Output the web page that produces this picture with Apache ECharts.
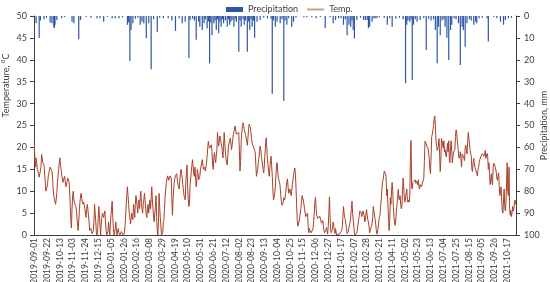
<!DOCTYPE html>
<html>
<head>
<meta charset="utf-8">
<script src="https://cdn.jsdelivr.net/npm/echarts@6/dist/echarts.min.js"></script>
<style>
  html, body { margin: 0; padding: 0; background: #fff; }
  #chart { width: 550px; height: 282px; }
</style>
</head>
<body>
<div id="chart"></div>
<script>
// daily air temperature, °C, one array per month
const tSep19 = [21.5,17,15.5,17.6,16.5,15,14.5,14,13.2,12.8,13.5,15.5,18.4,17.5,16.5,16.3,16,14,12,10,9.6,11,12,13.5,14.2,15,15.5,15.7,15.5,14.5];
const tOct19 = [13,10.5,9,8.2,7.8,7,8.2,9.5,12,13.5,15,16.5,17.6,16,15,13.8,13,12,12.6,13,13.4,12,11,11.6,12.3,13,12.6,12.2,10,7,3.5];
const tNov19 = [1.6,6,9,10,8,7.6,7,6.5,6,4,2.5,1,3,5.5,7.5,9,9.5,8.3,7.5,7,7.5,6.8,6,5,4,6,7,6,4.5,3];
const tDec19 = [1,1.2,1.5,0.8,0.3,0,1,3,7,5,3,0.5,0,1,4,6.5,4.5,2,0,2.5,4,5,4.6,4,5,5.5,3,1,0,0.3,0.8];
const tJan20 = [3,1,0,2.5,4.5,6.5,7.7,4,1.5,0,0.5,1.5,3,1,0,1,1.5,0.5,0.2,0,0.3,0.8,1,0.4,0,0,0.5,2,4,7,9];
const tFeb20 = [11,9,7,5,4,2.5,3.5,5,4,3.5,7,5.5,4,7,9,8,6.5,5,7.5,8,6,8.5,10,7.5,6,5,7,8,9.5];
const tMar20 = [8,6,4.5,4,6.5,7,5,6.5,8,6,8.5,11,8,6,4,3,5,6.5,9,4,1,0,3,9.5,6.5,4,2,0,0,0.5,3];
const tApr20 = [3.5,6,9,10.5,12,12.8,13.5,13,12.5,13,13.5,13.2,13,8,4.5,8,10.5,12,13,13.5,13.8,14,12.5,11.5,11,10.5,12.5,14,15,14];
const tMay20 = [13,11.5,10.4,9,8.5,8,12,14.5,16,11,8,6.5,7.5,11.5,13,14.5,16,17.2,15.5,14,13.4,15.5,13,11,12.5,15,14,12.6,13,13.4,15];
const tJun20 = [15.7,16.5,17.2,16,15,14.8,15.5,14.6,15.5,16.5,18,20,21.4,20.5,19.8,19.5,20,20.6,19,16,15,17.5,18.8,17.5,16.5,16.1,19.5,23.4,21.5,20.3];
const tJul20 = [21.5,22.6,22,21,20.3,19,17.6,20.5,23.4,21,18.8,17.5,16.5,16,18,20.3,21,21.5,22.1,21,19.5,20.5,21.8,22.9,23.5,24.2,24.9,24,23,22.6,23];
const tAug20 = [23.2,23.4,19,14.6,17,21.4,23.5,25,25.6,25,24.1,23.5,23,22.6,21.5,20.5,22,24,25.3,25,24.5,24.1,22,21,20.5,20.3,19.8,19.3,18.8,16,13.4];
const tSep20 = [13.4,15,16.5,17.5,19,20.3,19.5,18,17.2,16,15,14.2,16,18.5,20.5,22.2,20,17.5,16,14.5,13.4,15,17,18,16,13.4,10.5,8,8.5,9.5];
const tOct20 = [11,13.5,16,16.5,14.5,13,12.7,12,11,9,7.5,6.8,7,7.5,8.5,8,8.5,9.5,11,12.2,12.8,11,9.5,10,10.5,9.8,9,10,11.5,12.5,13.8];
const tNov20 = [14.5,15.3,14,11,7,3.5,2,2.2,3,4,5,6,7.5,9,9.2,8,7,6,5,4.2,3.8,4.2,5,2,0.5,1.5,1,1,0.5,0.2];
const tDec20 = [0.5,1.5,3,5,7.5,8.6,6,4.5,4.2,3.8,3.5,4,4.3,4,3.2,2.7,3,3.3,2,1,0.5,0.2,1,1.7,1,0.2,2,5,8.7,4,1];
const tJan21 = [0.5,0.2,1.5,3,2,1,0.3,1.5,0.5,0,0,0.2,0,0,0.3,0,0.5,1,1.7,4,6.5,5,4,3.5,2.5,1.5,0.3,0.2,0.8,1.7,2.5];
const tFeb21 = [3,4.5,6,7.7,5,3.5,2,0.5,0,0.2,0.3,0.5,1.5,2.5,3.5,4.5,5.5,5.8,5,4.2,4.8,5.5,5.8,4.5,3,3.5,4.8,5.8];
const tMar21 = [4.5,3.5,3,2,0.5,0.8,1.5,2,2.5,4,6.5,6.3,4.5,3.5,2.5,1,0.2,0.3,1.5,3,4,4.5,6.5,8,10,12,12.5,13.5,14.6,14.5,14];
const tApr21 = [13.4,9,10.5,7,4,1,3,8.5,7,10,12,10,6.5,4,3,2.2,3.5,5.5,7,8.5,10.4,8.5,8,9,7,6,6.6,10,13,11];
const tMay21 = [8.5,7.5,7.2,9.5,10.5,8,7.5,8,7.5,9,17,21.6,11,10.5,12,12.4,11.8,12.4,12.6,11.8,12.3,12,11.5,12.6,11,10.5,11.5,11.8,11,11.1,10.8];
const tJun21 = [10.8,13,17,21.4,21.2,20.8,20.3,20,19.8,19.5,17.5,15,14,18,22.5,23,24,25,26.5,27.2,25,21.5,20.5,19.3,19,20.3,22,18.5,14.5,17];
const tJul21 = [22,21.5,20.5,19.8,21.5,19,19.5,18.5,17.8,19.5,21,19,21.5,17,16.5,20,21.5,19,16.5,18,19,18.8,19.5,22.5,24,23.5,21.5,20.5,18.5,17.5,18];
const tAug21 = [19,17.5,15.5,18.5,18.6,18,17.5,17,20,20.5,19.5,18.5,21,23.4,23.5,21,19.5,18.6,18,15,14.5,16.5,17.5,16.5,15.5,15,14.5,14,13.5,14.8,15.4];
const tSep21 = [16.5,17.2,17.5,18,18.2,18.6,18.8,18.4,18,18.5,19.3,17.5,17.8,18.6,18,15,16.5,14,11.5,12.5,14,12,11.5,15.5,16.4,16,15.7,15.4,14.5,13];
const tOct21 = [12.5,13.5,14.2,11,9,10,11,8,5.5,5,8,10.5,6.5,5.5,7.5,12,16.5,10,9,15.5,6,4.5,5.6,4.2,5,6.5,5.5,6,7.5,8,7];

// rainy days: day number counted from 2019-09-01, and the amount in mm
const rainDay = [3,8,10,16,20,26,29,32,33,34,37,45,50,62,65,73,76,85,93,103,108,114,120,128,133,139,145,
  153,155,157,159,162,166,170,174,177,180,184,188,192,196,202,206,212,220,226,232,238,243,248,254,256,260,263,
  266,270,272,276,279,281,284,286,288,290,292,295,297,299,301,303,305,307,309,311,314,317,319,321,323,325,328,
  330,332,336,338,340,343,345,347,350,352,354,356,358,360,362,366,371,377,383,389,391,393,396,399,404,407,410,
  412,415,418,423,426,430,443,448,456,463,470,478,486,491,495,500,504,508,511,514,517,520,522,524,526,530,536,
  541,544,547,549,551,555,558,560,563,567,575,580,584,588,594,600,606,610,612,614,617,619,621,623,626,629,634,
  640,644,648,652,656,659,662,664,667,670,673,675,678,681,684,686,690,693,697,700,703,705,708,711,715,718,722,
  725,727,731,736,744,746,755,760,766,771,774,779,784];
const rainMm = [3.3,10,2,1.5,0.8,3,3.3,4.9,5.6,4,1.8,1,0.5,2.6,3.3,10.6,1.8,0.5,0.8,1,1,2.6,0.5,1,1,1,0.6,
  4,3,20.5,6.4,3.3,1.2,0.8,4,2.6,3.3,10.2,3.3,24.3,1.5,7.3,0.8,1,1,2,6.8,1,3.3,2.6,19.3,1.8,1.2,2,
  10.9,2.6,4.9,6.4,3.3,1.5,5.6,2.5,21.6,3,8.8,3.3,2,6.4,1.5,7.9,2.5,4.9,1.5,3.3,2,4.9,1.5,4,2.5,1.8,4.9,
  1.5,2.6,16.3,2,4.9,1.5,4,2,16.3,2.5,6.4,1.5,4.9,2,9.9,2.6,1.8,0.8,1,1.2,35.5,2,4.9,2.6,3.3,1.5,38.8,
  2,4,1,4.9,2.6,0.8,0.6,0.6,0.6,1,0.5,5.5,0.6,3.3,1.8,1,1,4,1.5,8.8,4,4.9,2,6.4,10.3,1.8,0.8,
  1.8,1.8,1.8,5.5,4.9,2.6,1,1,1,0.6,0.8,4,1,4.9,1.2,0.8,1.5,30.7,4,2,2.6,1.5,29.2,4,1.5,2.6,1.8,
  1,15.5,1.2,2,1.5,6.4,21.6,4.9,8.8,2,1.5,4.9,9.9,20.1,6.4,4,1,1.5,3.3,22.4,4.9,6.4,14,3.3,1.5,2,4,
  2.6,3.3,1,0.8,1,11.7,0.5,1,2.6,4,1.8,1,0.8];

const temps = [].concat(tSep19, tOct19, tNov19, tDec19, tJan20, tFeb20, tMar20, tApr20, tMay20, tJun20,
  tJul20, tAug20, tSep20, tOct20, tNov20, tDec20, tJan21, tFeb21, tMar21, tApr21, tMay21, tJun21,
  tJul21, tAug21, tSep21, tOct21);

const start = Date.UTC(2019, 8, 1);
const dates = temps.map((_, i) => new Date(start + i * 86400000).toISOString().slice(0, 10));
const rain = dates.map(() => null);
rainDay.forEach((d, i) => { rain[d] = rainMm[i]; });

const axisColor = '#404040';
const chart = echarts.init(document.getElementById('chart'));
chart.setOption({
  animation: false,
  textStyle: { fontFamily: 'Lato' },
  legend: {
    top: 0,
    left: 221,
    itemWidth: 17,
    itemHeight: 5,
    itemGap: 8,
    textStyle: { fontSize: 9, color: axisColor },
    data: [
      { name: 'Precipitation', icon: 'rect' },
      {
        name: 'Temp.',
        itemStyle: { color: 'rgba(0,0,0,0)', borderWidth: 0 },
        lineStyle: { color: '#c4a77d', width: 2 }
      }
    ]
  },
  grid: { left: 34, right: 34, top: 16, bottom: 47, outerBoundsMode: 'none' },
  xAxis: {
    type: 'category',
    data: dates,
    axisLine: { lineStyle: { color: axisColor } },
    axisTick: { interval: 6, length: 3, lineStyle: { color: axisColor } },
    axisLabel: { interval: 20, rotate: 90, fontSize: 8.5, color: axisColor, margin: 3 }
  },
  yAxis: [
    {
      type: 'value',
      min: 0, max: 50, interval: 5,
      name: 'Temperature, °C',
      nameLocation: 'middle',
      nameRotate: 90,
      nameGap: 23,
      nameMoveOverlap: false,
      nameTextStyle: { fontSize: 9, color: axisColor, padding: [0, 0, 0, 80] },
      axisLine: { show: true, lineStyle: { color: axisColor } },
      axisTick: { show: true, length: 4, lineStyle: { color: axisColor } },
      axisLabel: { fontSize: 9, color: axisColor, margin: 7 },
      splitLine: { show: false }
    },
    {
      type: 'value',
      min: 0, max: 100, interval: 10,
      inverse: true,
      position: 'right',
      name: 'Precipitation, mm',
      nameLocation: 'middle',
      nameRotate: 90,
      nameGap: 24,
      nameMoveOverlap: false,
      nameTextStyle: { fontSize: 9, color: axisColor },
      axisLine: { show: true, lineStyle: { color: axisColor } },
      axisTick: { show: true, length: 4, lineStyle: { color: axisColor } },
      axisLabel: { fontSize: 9, color: axisColor, margin: 8 },
      splitLine: { show: false }
    }
  ],
  series: [
    {
      name: 'Precipitation',
      type: 'bar',
      yAxisIndex: 1,
      data: rain,
      barWidth: 1.2,
      itemStyle: { color: '#2d56a3' }
    },
    {
      name: 'Temp.',
      type: 'line',
      yAxisIndex: 0,
      data: temps,
      symbol: 'none',
      lineStyle: { width: 1, color: '#a8402a' },
      itemStyle: { color: '#a8402a' }
    }
  ]
});
</script>
</body>
</html>
